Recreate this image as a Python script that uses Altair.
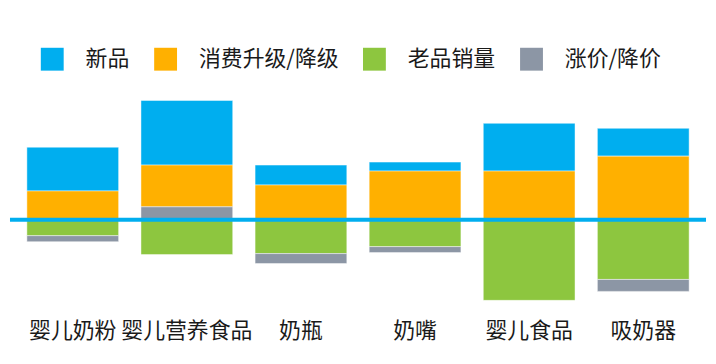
import altair as alt
import pandas as pd

categories = ["婴儿奶粉", "婴儿营养食品", "奶瓶", "奶嘴", "婴儿食品", "吸奶器"]
series = ["新品", "消费升级/降级", "老品销量", "涨价/降价"]
new_products = [44, 65, 20, 9, 48, 28]
upgrade = [29, 42, 35, 49, 49, 64]
old_sales = [-16, -35, -34, -27, -81, -60]
price = [-6, 13, -10, -6, 0, -12]
colors = ["#00AEEF", "#FFB000", "#8DC63F", "#8C96A5"]
stack_rank = {"老品销量": 0, "涨价/降价": 1, "消费升级/降级": 2, "新品": 3}

rows = []
for i, c in enumerate(categories):
    for s, vals in zip(series, [new_products, upgrade, old_sales, price]):
        rows.append({"category": c, "series": s, "value": vals[i], "rank": stack_rank[s]})
df = pd.DataFrame(rows)

FONT = "Noto Sans CJK SC"

bars = alt.Chart(df).mark_bar(stroke="white", strokeOpacity=0.45, strokeWidth=1).encode(
    x=alt.X("category:N", sort=categories,
            scale=alt.Scale(paddingInner=0.196, paddingOuter=0.148),
            axis=alt.Axis(title=None, domain=False, ticks=False, labelAngle=0,
                          labelFontSize=22, labelFont=FONT, labelColor="#1a1a1a",
                          labelPadding=11, labelBaseline="middle", labelLimit=300)),
    y=alt.Y("value:Q", stack="zero",
            scale=alt.Scale(domain=[-100, 212], nice=False, zero=False), axis=None),
    color=alt.Color("series:N", sort=series,
                    scale=alt.Scale(domain=series, range=colors),
                    legend=alt.Legend(orient="none", legendX=31, legendY=39,
                                      direction="horizontal", title=None,
                                      symbolType="square", symbolSize=529,
                                      symbolStrokeWidth=0, labelFontSize=22,
                                      labelFont=FONT, labelColor="#1a1a1a",
                                      labelOffset=22, columnPadding=24,
                                      padding=0, labelLimit=300)),
    order=alt.Order("rank:Q", sort="ascending"),
)

rule = alt.Chart(pd.DataFrame({"y": [0]})).mark_rule(color="#00AEEF", strokeWidth=4).encode(
    y=alt.Y("y:Q"),
    x=alt.value(0),
    x2=alt.value(700),
)

chart = alt.layer(bars, rule).properties(
    width=700, height=312,
    padding={"left": 0, "top": 0, "right": 0, "bottom": 16}
).configure_view(stroke=None)

chart.save("out.html", embed_options={"renderer": "svg", "actions": False})
